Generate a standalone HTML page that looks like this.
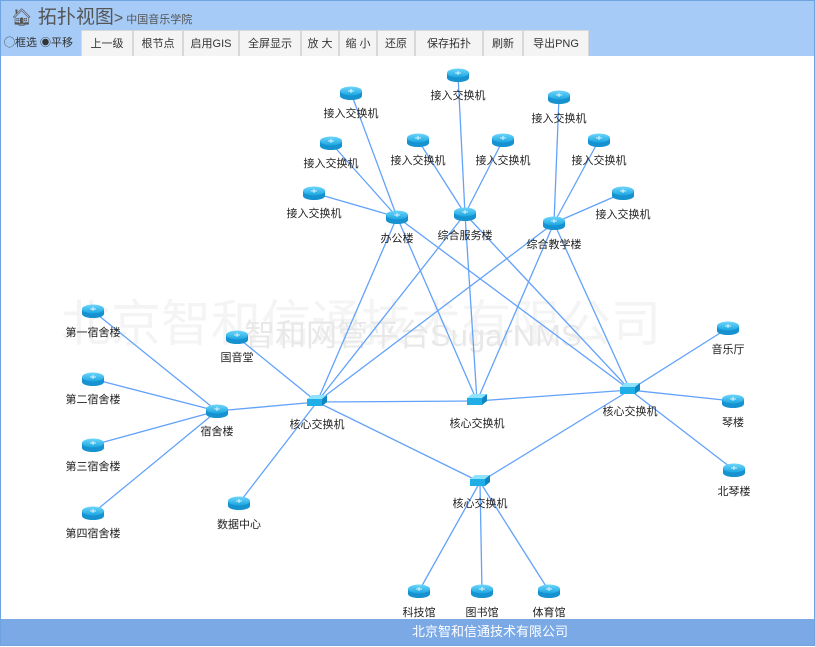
<!DOCTYPE html>
<html><head><meta charset="utf-8"><style>
body{margin:0;width:815px;height:646px;overflow:hidden;background:#fff;font-family:"Liberation Sans","Noto Sans CJK SC",sans-serif}
.wrap{position:absolute;left:0;top:0;width:813px;height:644px;border:1px solid #6ea3e0;background:#fff}
.hdr{position:absolute;left:0;top:0;width:813px;height:55px;background:#a6cbf6}
.title{position:absolute;left:10px;top:1px;font-size:19px;color:#555}
.title small{font-size:11px}
.tb{position:absolute;top:29px;height:26px;background:#f4f4f4;border:1px solid #d8d8d8;border-bottom:none;font-size:11px;color:#333;line-height:26px;text-align:center;box-sizing:border-box}
.radio{position:absolute;top:33px;font-size:11px;color:#333}
.foot{position:absolute;left:0;top:618px;width:813px;height:26px;background:#7aa9e6;color:#fff;font-size:13px;line-height:26px}
svg{position:absolute;left:0;top:0}
</style></head><body><div class="wrap">
<div class="hdr">
<div class="title"><span style="font-size:17px">&#x1F3E0;&#xFE0E;</span> 拓扑视图<span style="font-size:16px">&gt;</span><small> 中国音乐学院</small></div>
<div class="radio" style="left:3px">◯框选 ◉平移</div>
<div class="tb" style="left:80px;width:52px">上一级</div>
<div class="tb" style="left:132px;width:50px">根节点</div>
<div class="tb" style="left:182px;width:56px">启用GIS</div>
<div class="tb" style="left:238px;width:62px">全屏显示</div>
<div class="tb" style="left:300px;width:38px">放 大</div>
<div class="tb" style="left:338px;width:38px">缩 小</div>
<div class="tb" style="left:376px;width:38px">还原</div>
<div class="tb" style="left:414px;width:68px">保存拓扑</div>
<div class="tb" style="left:482px;width:40px">刷新</div>
<div class="tb" style="left:522px;width:66px">导出PNG</div>
</div>
<svg width="815" height="646" viewBox="0 0 815 646" style="top:0">
<text x="60" y="340" font-size="50" fill="#f4f4f4" font-family="Liberation Sans,Noto Sans CJK SC,sans-serif">北京智和信通技术有限公司</text>
<text x="243" y="345" font-size="31" fill="#e8e8e8" font-family="Liberation Sans,Noto Sans CJK SC,sans-serif">智和网管平台SugarNMS</text>
<g stroke="#62a2fa" stroke-width="1.3" fill="none">
<line x1="350" y1="92" x2="396" y2="216"/><line x1="330" y1="142" x2="396" y2="216"/><line x1="313" y1="192" x2="396" y2="216"/>
<line x1="457" y1="74" x2="464" y2="213"/><line x1="417" y1="139" x2="464" y2="213"/><line x1="502" y1="139" x2="464" y2="213"/>
<line x1="558" y1="96" x2="553" y2="222"/><line x1="598" y1="139" x2="553" y2="222"/><line x1="622" y1="192" x2="553" y2="222"/>
<line x1="396" y1="216" x2="316" y2="401"/><line x1="396" y1="216" x2="476" y2="400"/><line x1="396" y1="216" x2="629" y2="389"/>
<line x1="464" y1="213" x2="316" y2="401"/><line x1="464" y1="213" x2="476" y2="400"/><line x1="464" y1="213" x2="629" y2="389"/>
<line x1="553" y1="222" x2="316" y2="401"/><line x1="553" y1="222" x2="476" y2="400"/><line x1="553" y1="222" x2="629" y2="389"/>
<line x1="316" y1="401" x2="476" y2="400"/><line x1="476" y1="400" x2="629" y2="389"/>
<line x1="316" y1="401" x2="479" y2="481"/><line x1="629" y1="389" x2="479" y2="481"/>
<line x1="316" y1="401" x2="216" y2="410"/><line x1="316" y1="401" x2="236" y2="336"/><line x1="316" y1="401" x2="238" y2="502"/>
<line x1="92" y1="310" x2="216" y2="410"/><line x1="92" y1="378" x2="216" y2="410"/><line x1="92" y1="444" x2="216" y2="410"/><line x1="92" y1="512" x2="216" y2="410"/>
<line x1="629" y1="389" x2="727" y2="327"/><line x1="629" y1="389" x2="732" y2="400"/><line x1="629" y1="389" x2="733" y2="469"/>
<line x1="479" y1="481" x2="418" y2="590"/><line x1="479" y1="481" x2="481" y2="590"/><line x1="479" y1="481" x2="548" y2="590"/>
</g>
<defs>
<linearGradient id="g" x1="0" y1="0" x2="0" y2="1"><stop offset="0" stop-color="#6fd6fb"/><stop offset="1" stop-color="#1aa6e0"/></linearGradient>
<g id="r"><path d="M-11,-2 v5 a11,4 0 0 0 22,0 v-5z" fill="#1592cf"/><ellipse cx="0" cy="-2" rx="11" ry="4.5" fill="url(#g)"/><path d="M-3,-2h6M0,-4v4" stroke="#fff" stroke-width="0.8"/></g>
<g id="s"><path d="M-10,-3 l5,-4 h15 l-5,4z" fill="#8fe2fd"/><path d="M-10,-3 h15 v7 h-15z" fill="#1faee6"/><path d="M5,-3 l5,-4 v7 l-5,4z" fill="#0d86c2"/></g>
</defs>
<g>
<use href="#r" x="350" y="92"/><use href="#r" x="330" y="142"/><use href="#r" x="313" y="192"/>
<use href="#r" x="457" y="74"/><use href="#r" x="417" y="139"/><use href="#r" x="502" y="139"/>
<use href="#r" x="558" y="96"/><use href="#r" x="598" y="139"/><use href="#r" x="622" y="192"/>
<use href="#r" x="396" y="216"/><use href="#r" x="464" y="213"/><use href="#r" x="553" y="222"/>
<use href="#r" x="216" y="410"/><use href="#r" x="236" y="336"/><use href="#r" x="238" y="502"/>
<use href="#r" x="92" y="310"/><use href="#r" x="92" y="378"/><use href="#r" x="92" y="444"/><use href="#r" x="92" y="512"/>
<use href="#r" x="727" y="327"/><use href="#r" x="732" y="400"/><use href="#r" x="733" y="469"/>
<use href="#r" x="418" y="590"/><use href="#r" x="481" y="590"/><use href="#r" x="548" y="590"/>
<use href="#s" x="316" y="401"/><use href="#s" x="476" y="400"/><use href="#s" x="629" y="389"/><use href="#s" x="479" y="481"/>
</g>
<g font-size="11" fill="#222" text-anchor="middle" font-family="Liberation Sans,Noto Sans CJK SC,sans-serif">
<text x="350" y="116">接入交换机</text><text x="330" y="166">接入交换机</text><text x="313" y="216">接入交换机</text>
<text x="457" y="98">接入交换机</text><text x="417" y="163">接入交换机</text><text x="502" y="163">接入交换机</text>
<text x="558" y="121">接入交换机</text><text x="598" y="163">接入交换机</text><text x="622" y="217">接入交换机</text>
<text x="396" y="241">办公楼</text><text x="464" y="238">综合服务楼</text><text x="553" y="247">综合教学楼</text>
<text x="216" y="434">宿舍楼</text><text x="236" y="360">国音堂</text><text x="238" y="527">数据中心</text>
<text x="92" y="335">第一宿舍楼</text><text x="92" y="402">第二宿舍楼</text><text x="92" y="469">第三宿舍楼</text><text x="92" y="536">第四宿舍楼</text>
<text x="727" y="352">音乐厅</text><text x="732" y="425">琴楼</text><text x="733" y="494">北琴楼</text>
<text x="418" y="615">科技馆</text><text x="481" y="615">图书馆</text><text x="548" y="615">体育馆</text>
<text x="316" y="427">核心交换机</text><text x="476" y="426">核心交换机</text><text x="629" y="414">核心交换机</text><text x="479" y="506">核心交换机</text>
</g>
</svg>
<div class="foot"><span style="position:absolute;left:411px">北京智和信通技术有限公司</span></div>
</div></body></html>
